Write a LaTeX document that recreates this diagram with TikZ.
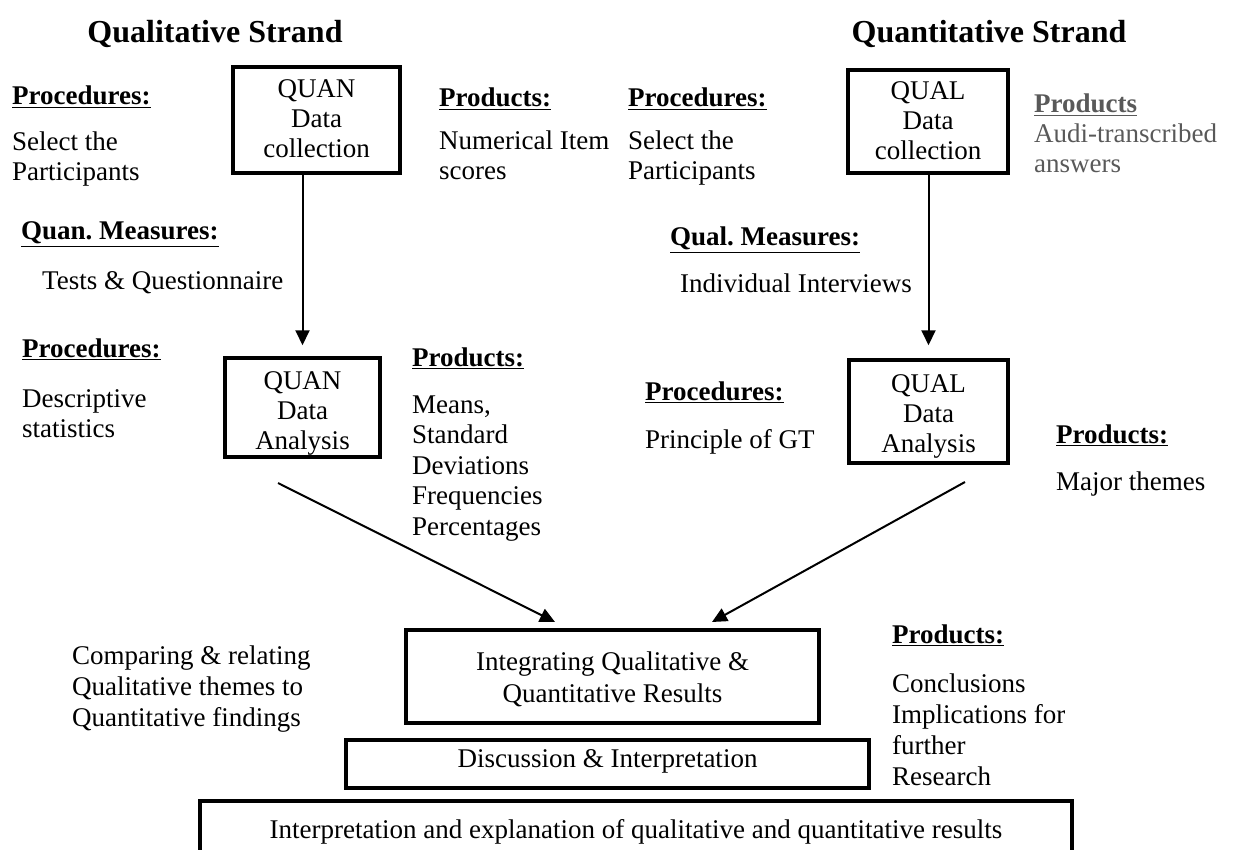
\documentclass[tikz,border=0pt]{standalone}
\usepackage{fontspec}
\setmainfont{Liberation Serif}
\usetikzlibrary{arrows.meta}
\frenchspacing

\tikzset{
  stage/.style={draw, line width=3.5pt, align=center, inner sep=0pt,
    text depth=6pt, font=\fontsize{27}{30}\selectfont},
  note/.style={anchor=base west, align=left, inner sep=0pt,
    font=\fontsize{27}{30}\selectfont},
  strand/.style={anchor=base, inner sep=0pt, font=\fontsize{32}{36}\selectfont\bfseries},
  flow/.style={line width=2pt, -{Triangle[length=15pt,width=14pt]}},
}
\newcommand{\hd}[1]{\underline{\textbf{#1}}}

\begin{document}
\begin{tikzpicture}[x=1pt, y=-1pt]
\useasboundingbox (0,0) rectangle (1242,850);
\clip (0,0) rectangle (1242,850);

% strand titles
\node[strand] (tqual) at (215,43) {Qualitative Strand};
\node[strand] (tquan) at (989,43) {Quantitative Strand};

% left strand (notes anchored at the baseline of their last line)
\node[stage, minimum width=167pt, minimum height=106pt, text height=82pt] (qncol)
  at (316.5,120) {QUAN\\Data\\collection};
\node[stage, minimum width=155pt, minimum height=99pt, text height=89pt] (qnana)
  at (302.5,407.5) {QUAN\\Data\\Analysis};

\node[note] (proc1) at (12,181) {\hd{Procedures:}\\[16pt] Select the\\Participants};
\node[note] (meas1) at (21,240) {\hd{Quan. Measures:}};
\node[note] (tests) at (42,290) {Tests \& Questionnaire};
\node[note] (prod1) at (439,180) {\hd{Products:}\\[13pt] Numerical Item\\scores};
\node[note] (proc2) at (22,437) {\hd{Procedures:}\\[20pt] Descriptive\\statistics};
\node[note, font=\fontsize{27}{30.5}\selectfont] (prod2) at (412,535)
  {\hd{Products:}\\[16pt] Means,\\Standard\\Deviations\\Frequencies\\Percentages};

% right strand
\node[stage, minimum width=160pt, minimum height=103pt, text height=83pt] (qlcol)
  at (928,121.5) {QUAL\\Data\\collection};
\node[stage, minimum width=159pt, minimum height=103pt, text height=87pt] (qlana)
  at (928.5,411.5) {QUAL\\Data\\Analysis};

\node[note] (proc3) at (628,180) {\hd{Procedures:}\\[13pt] Select the\\Participants};
\node[note, text=black!65] (prod3) at (1034,173) {\hd{Products}\\Audi-transcribed\\answers};
\node[note] (meas2) at (670,246) {\hd{Qual. Measures:}};
\node[note] (inter) at (680,293) {Individual Interviews};
\node[note] (proc4) at (645,448) {\hd{Procedures:}\\[18pt] Principle of GT};
\node[note] (prod4) at (1056,490) {\hd{Products:}\\[17pt] Major themes};

% merging
\node[stage, minimum width=413pt, minimum height=93pt, text height=57pt,
  font=\fontsize{27}{32}\selectfont] (integ) at (612.5,676.5)
  {Integrating Qualitative \&\\Quantitative Results};
\node[stage, minimum width=523pt, minimum height=48pt, text height=18pt,
  text depth=12pt] (disc) at (607.5,764)
  {Discussion \& Interpretation};
\node[stage, minimum width=872pt, minimum height=60pt, text height=19pt,
  text depth=5pt] (final) at (636,831)
  {Interpretation and explanation of qualitative and quantitative results};

\node[note, font=\fontsize{27}{31}\selectfont] (comp) at (72,726)
  {Comparing \& relating\\Qualitative themes to\\Quantitative findings};
\node[note, font=\fontsize{27}{31}\selectfont] (prod5) at (892,785)
  {\hd{Products:}\\[18pt] Conclusions\\Implications for\\further\\Research};

% arrows
\coordinate (qnout) at (278,483);
\coordinate (qnin) at (555,622);
\coordinate (qlout) at (965,482);
\coordinate (qlin) at (712,622);

\draw[flow, shorten >=11pt] (qnana.north |- qncol.south) -- (qnana.north);
\draw[flow, shorten >=13pt] (qlana.north |- qlcol.south) -- (qlana.north);
\draw[flow] (qnout) -- (qnin);
\draw[flow] (qlout) -- (qlin);
\end{tikzpicture}
\end{document}
